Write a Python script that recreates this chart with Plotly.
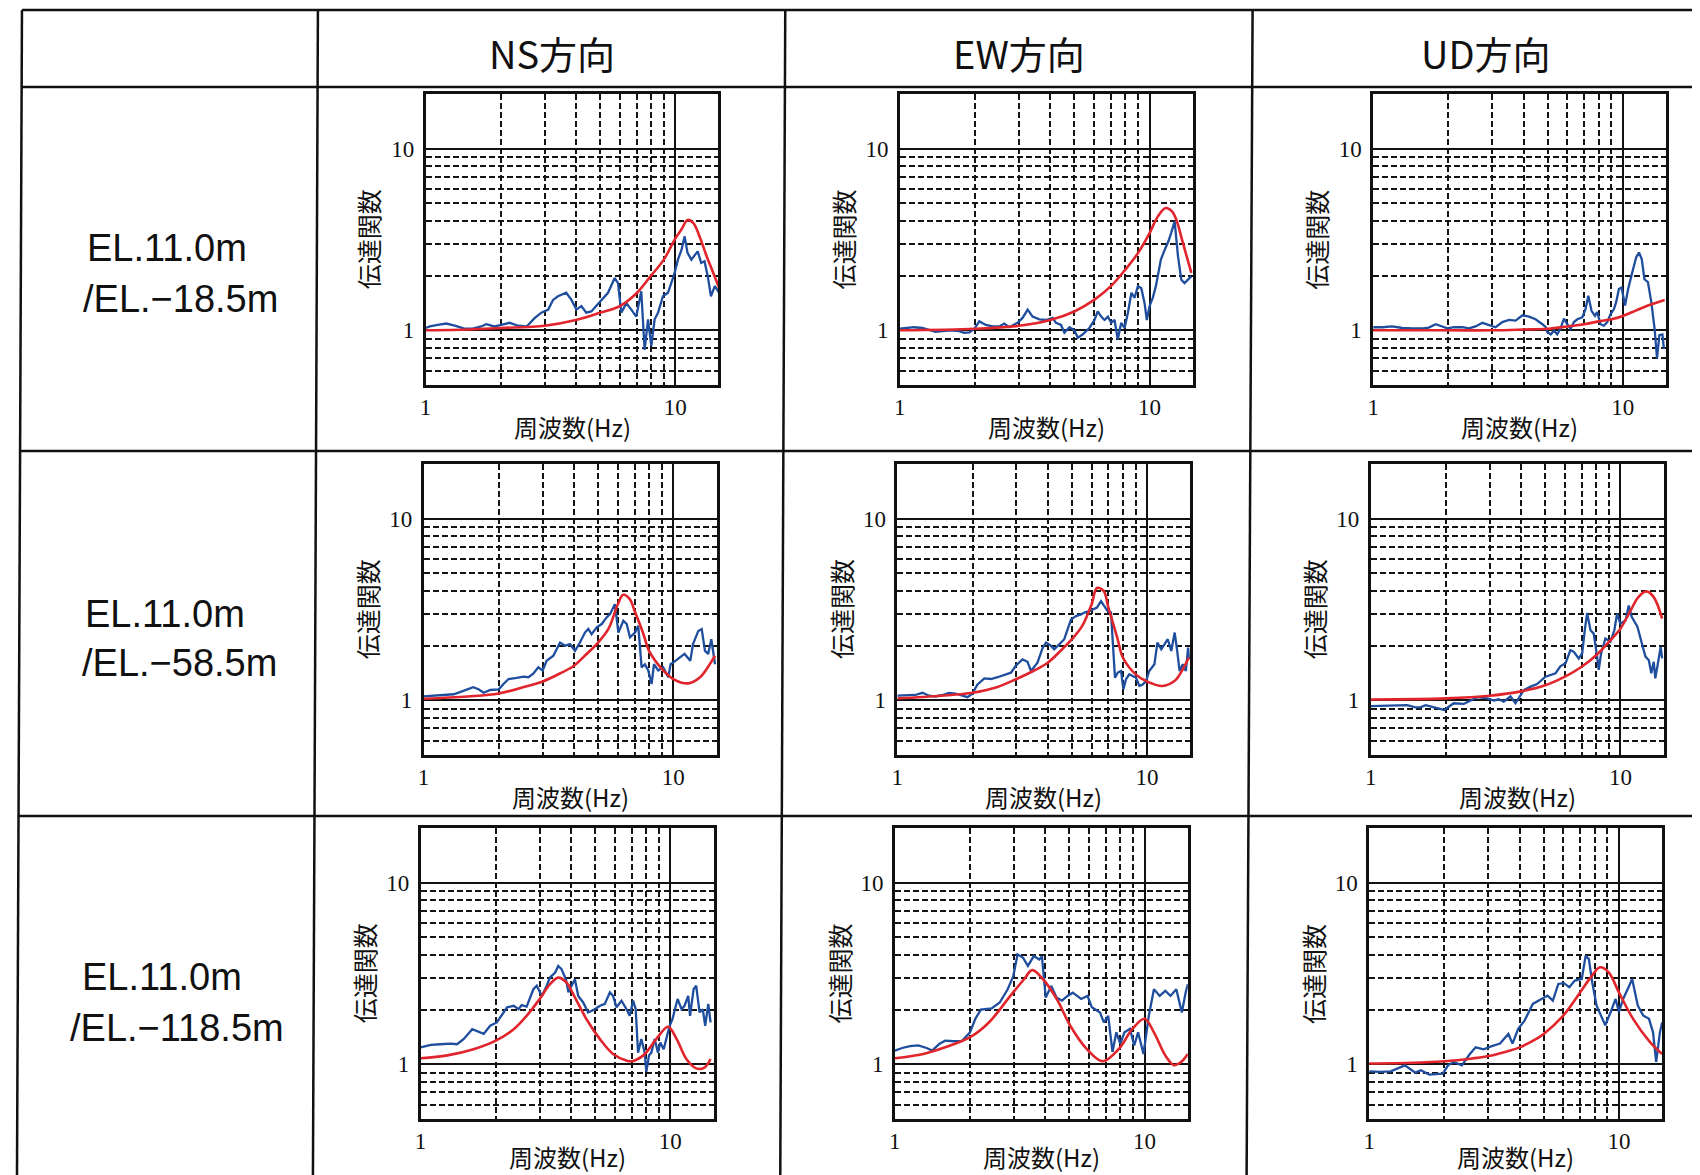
import math
import plotly.graph_objects as go

# The page body has an 8 px margin, so the figure is drawn 8 px smaller and
# every pixel coordinate below is measured on the 1700x1175 reference.
OFF = 8
W, H = 1700 - OFF, 1175 - OFF

# ---------------- data ----------------
col_titles = ["NS方向", "EW方向", "UD方向"]
row_line1 = ["EL.11.0m", "EL.11.0m", "EL.11.0m"]
row_line2 = ["/EL.−18.5m", "/EL.−58.5m", "/EL.−118.5m"]
x_title = "周波数(Hz)"
y_title = "伝達関数"
x_tick_vals = [1, 10]
x_tick_text = ["1", "10"]
y_tick_vals = [1, 10]
y_tick_text = ["1", "10"]
x_minor_vals = [2, 3, 4, 5, 6, 7, 8, 9]
y_minor_vals = [0.6, 0.7, 0.8, 0.9, 2, 3, 4, 5, 6, 7, 8, 9]
x_limits = [1.0, 14.9]
y_limits = [0.5, 20.0]

# Row 1 : EL.11.0m / EL.-18.5m
f_obs_ns_r1 = [1.0,1.04,1.12,1.21,1.31,1.44,1.53,1.67,1.75,1.89,2.01,2.17,2.35,2.54,2.74,2.91,3.10,3.24,3.39,3.66,
               3.84,4.02,4.21,4.40,4.61,4.83,5.06,5.38,5.72,5.90,6.08,6.37,6.67,6.98,7.31,7.54,7.78,8.02,8.27,8.53,
               8.93,9.35,9.64,9.94,10.25,10.6,10.9,11.2,11.6,11.9,12.3,12.7,13.1,13.5,13.9,14.4,15.0]
h_obs_ns_r1 = [1.03,1.05,1.07,1.09,1.06,1.02,1.02,1.05,1.08,1.05,1.07,1.10,1.06,1.05,1.17,1.25,1.30,1.47,1.54,1.61,
               1.47,1.30,1.36,1.25,1.27,1.36,1.47,1.61,1.94,1.82,1.25,1.41,1.30,1.19,1.64,0.78,1.15,0.82,1.15,1.25,
               1.54,1.61,1.82,2.07,2.45,2.78,3.29,2.67,2.45,2.55,2.72,2.35,2.40,1.98,1.54,1.75,1.61]
f_th_ns_r1 = [1.0,1.5,2.0,3.0,4.0,5.0,6.0,7.0,8.0,9.0,10.0,10.6,11.2,11.8,12.5,13.3,14.2,15.0]
h_th_ns_r1 = [1.0,1.01,1.03,1.06,1.14,1.25,1.36,1.6,2.0,2.45,3.2,3.6,4.05,3.9,3.3,2.6,2.07,1.71]

f_obs_ew_r1 = [1.0,1.06,1.14,1.23,1.31,1.39,1.48,1.60,1.73,1.81,1.90,1.99,2.08,2.21,2.35,2.50,2.62,2.74,2.96,3.10,
               3.25,3.40,3.62,3.85,4.09,4.22,4.42,4.56,4.78,5.00,5.16,5.40,5.74,6.02,6.20,6.40,6.60,6.81,7.02,7.24,
               7.46,7.70,7.94,8.19,8.46,8.71,8.98,9.26,9.55,9.75,10.0,10.3,10.6,11.1,11.5,11.9,12.2,12.6,13.0,13.4,
               13.8,14.3,14.7]
h_obs_ew_r1 = [1.02,1.03,1.04,1.03,1.0,0.98,0.99,1.0,0.99,0.97,0.975,1.02,1.12,1.07,1.05,1.05,1.09,1.04,1.10,1.17,
               1.30,1.19,1.15,1.14,1.17,1.10,1.07,0.97,1.04,1.0,0.91,0.95,1.03,1.14,1.27,1.19,1.14,1.19,1.10,1.14,
               0.89,1.10,1.03,1.25,1.61,1.51,1.75,1.71,1.41,1.14,1.36,1.51,1.75,2.45,2.78,3.09,3.43,3.98,2.55,1.90,
               1.82,1.90,1.98]
f_th_ew_r1 = [1.0,2.0,3.0,4.0,5.0,6.0,7.0,8.0,9.0,10.0,10.8,11.6,12.3,12.8,13.6,14.7]
h_th_ew_r1 = [1.0,1.02,1.06,1.14,1.27,1.47,1.75,2.16,2.67,3.43,4.24,4.71,4.52,4.06,3.03,2.07]

f_obs_ud_r1 = [1.0,1.09,1.19,1.31,1.44,1.58,1.67,1.78,1.89,1.98,2.11,2.28,2.42,2.57,2.74,2.91,3.09,3.29,3.50,3.72,
               3.96,4.21,4.47,4.76,4.91,4.98,5.14,5.30,5.46,5.63,5.81,5.99,6.18,6.37,6.57,6.88,7.09,7.27,7.49,7.73,
               7.89,8.14,8.39,8.66,8.93,9.21,9.40,9.64,9.88,10.2,10.5,10.9,11.3,11.6,11.9,12.2,12.6,13.0,13.4,13.7,
               14.0,14.4,14.6]
h_obs_ud_r1 = [1.04,1.04,1.05,1.03,1.025,1.025,1.035,1.08,1.05,1.025,1.04,1.04,1.025,1.05,1.10,1.07,1.04,1.11,1.14,1.13,
               1.21,1.19,1.15,1.08,1.04,0.98,0.95,0.996,0.95,1.025,1.16,1.08,1.02,1.11,1.15,1.18,1.31,1.55,1.28,1.20,
               1.26,1.08,1.06,1.11,1.23,1.31,1.43,1.69,1.72,1.37,1.69,2.08,2.52,2.68,2.47,1.91,1.84,1.43,1.02,0.70,
               0.94,0.95,0.79]
f_th_ud_r1 = [1.0,2.0,3.0,4.0,5.0,6.0,7.0,8.0,9.0,10.0,11.2,12.6,14.7]
h_th_ud_r1 = [1.0,1.0,1.0,1.01,1.02,1.05,1.08,1.12,1.15,1.2,1.28,1.37,1.47]

# Row 2 : EL.11.0m / EL.-58.5m
f_obs_ns_r2 = [1.0,1.10,1.20,1.32,1.40,1.49,1.58,1.66,1.74,1.85,2.0,2.09,2.19,2.36,2.51,2.63,2.75,2.88,3.0,3.11,
               3.31,3.52,3.69,3.86,4.04,4.23,4.43,4.57,4.71,4.94,5.17,5.41,5.58,5.84,6.03,6.31,6.51,6.71,7.03,7.24,
               7.47,7.70,7.94,8.19,8.37,8.71,9.12,9.55,9.76,10.2,10.6,11.1,11.7,12.0,12.6,13.0,13.4,13.8,14.2,14.7]
h_obs_ns_r2 = [1.05,1.06,1.065,1.08,1.11,1.15,1.18,1.15,1.10,1.14,1.15,1.23,1.31,1.33,1.35,1.34,1.40,1.52,1.46,1.65,
               1.76,2.08,2.0,2.04,1.87,2.08,2.36,2.47,2.31,2.52,2.63,2.86,2.98,3.38,2.36,2.74,2.63,2.22,2.36,2.57,
               1.52,1.58,1.46,1.23,1.58,1.46,1.52,1.34,1.58,1.65,1.72,1.80,1.65,2.04,2.41,2.47,1.87,1.80,2.17,1.58]
f_th_ns_r2 = [1.0,1.5,2.0,2.5,3.0,3.5,4.0,4.5,5.0,5.5,6.0,6.3,6.7,7.0,7.6,8.0,9.0,10.0,11.5,12.8,14.0,14.7]
h_th_ns_r2 = [1.02,1.05,1.09,1.18,1.27,1.40,1.55,1.80,2.08,2.47,3.38,3.81,3.61,3.11,2.31,1.87,1.49,1.31,1.24,1.34,1.58,1.76]

f_obs_ew_r2 = [1.0,1.10,1.18,1.26,1.34,1.42,1.52,1.61,1.71,1.82,1.91,2.0,2.09,2.23,2.37,2.52,2.72,2.85,2.98,3.17,
               3.32,3.43,3.64,3.82,3.94,4.12,4.25,4.45,4.66,4.96,5.19,5.44,5.61,5.87,6.05,6.30,6.54,6.74,6.95,7.17,
               7.29,7.44,7.63,7.87,8.04,8.24,8.49,8.76,9.03,9.32,9.61,9.91,10.2,10.7,11.0,11.4,11.7,12.1,12.5,12.9,
               13.2,13.5,13.9,14.3,14.6,14.7]
h_obs_ew_r2 = [1.06,1.07,1.07,1.10,1.06,1.05,1.07,1.10,1.09,1.06,1.04,1.09,1.22,1.32,1.31,1.34,1.39,1.42,1.55,1.68,
               1.63,1.45,1.61,1.95,2.08,2.0,1.91,2.03,2.17,2.79,2.91,2.97,3.04,3.10,3.17,3.24,3.52,3.31,3.10,3.04,
               2.03,1.33,1.42,1.45,1.15,1.31,1.39,1.36,1.33,1.20,1.22,1.28,1.45,1.58,2.08,1.91,2.03,2.17,1.87,2.36,
               1.87,1.45,1.58,1.45,1.95,1.68]
f_th_ew_r2 = [1.0,1.5,2.0,2.5,3.0,3.5,4.0,4.5,5.0,5.5,6.0,6.3,6.7,7.0,7.6,8.0,9.0,10.0,11.5,12.9,14.0,14.7]
h_th_ew_r2 = [1.025,1.06,1.10,1.18,1.31,1.45,1.61,1.87,2.17,2.57,3.38,4.15,4.0,3.24,2.21,1.72,1.39,1.27,1.20,1.28,1.51,1.72]

f_obs_ud_r2 = [1.0,1.10,1.20,1.32,1.40,1.51,1.58,1.66,1.74,1.82,1.97,2.15,2.36,2.67,2.93,3.11,3.26,3.41,3.63,3.80,
               3.98,4.11,4.37,4.64,5.01,5.25,5.50,5.75,6.03,6.31,6.51,6.81,7.03,7.20,7.36,7.59,7.82,8.07,8.19,8.37,
               8.71,9.12,9.46,9.70,10.0,10.5,10.8,11.1,11.7,12.2,12.6,13.0,13.3,13.6,13.8,14.2,14.5,14.7]
h_obs_ud_r2 = [0.93,0.935,0.94,0.94,0.94,0.915,0.915,0.94,0.925,0.915,0.885,0.963,0.955,1.04,1.025,0.998,1.013,0.983,1.05,0.963,
               1.07,1.14,1.19,1.23,1.35,1.38,1.41,1.54,1.60,1.89,1.85,1.70,1.81,2.43,3.03,2.43,2.33,1.74,1.47,1.81,
               2.19,2.10,2.43,3.0,2.64,2.76,3.33,2.88,2.54,2.05,1.74,1.66,1.41,1.63,1.32,1.66,1.97,1.70]
f_th_ud_r2 = [1.0,2.0,3.0,4.0,5.0,6.0,7.0,8.0,9.0,10.0,11.0,11.8,12.7,13.6,14.7]
h_th_ud_r2 = [1.01,1.025,1.06,1.12,1.21,1.35,1.53,1.77,2.10,2.48,3.13,3.7,3.98,3.7,2.82]

# Row 3 : EL.11.0m / EL.-118.5m
f_obs_ns_r3 = [1.0,1.10,1.20,1.32,1.40,1.49,1.61,1.71,1.79,1.90,2.02,2.22,2.36,2.47,2.54,2.66,2.83,2.92,3.06,3.20,
               3.30,3.46,3.56,3.67,3.82,3.91,4.03,4.15,4.28,4.48,4.69,4.99,5.23,5.47,5.73,5.90,6.09,6.38,6.68,6.88,
               7.10,7.27,7.43,7.66,7.90,8.02,8.22,8.40,8.66,8.93,9.12,9.41,9.64,9.94,10.2,10.7,11.1,11.4,11.8,12.0,
               12.4,12.7,13.1,13.5,13.8,14.2,14.5]
h_obs_ns_r3 = [1.24,1.28,1.29,1.30,1.29,1.38,1.56,1.50,1.47,1.63,1.70,2.06,2.10,2.01,2.12,2.08,2.59,2.71,2.38,2.71,
               3.01,3.20,3.48,3.34,2.94,2.49,2.71,2.94,2.38,2.19,1.93,2.01,2.10,2.15,2.49,2.38,2.06,2.24,2.01,1.85,
               2.24,2.01,1.16,1.38,1.16,0.91,1.12,1.16,1.38,1.16,1.32,1.21,1.38,1.63,1.77,2.29,2.01,2.10,2.38,1.85,
               2.59,2.71,1.93,2.01,1.63,2.15,1.70]
f_th_ns_r3 = [1.0,1.28,1.63,2.0,2.36,2.66,3.0,3.3,3.56,3.84,4.09,4.62,5.22,5.9,6.67,7.0,7.8,8.8,9.8,10.6,11.6,12.7,13.7,14.5]
h_th_ns_r3 = [1.08,1.12,1.21,1.35,1.56,1.85,2.29,2.76,3.0,2.82,2.43,1.77,1.38,1.14,1.05,1.04,1.12,1.38,1.61,1.38,1.07,0.95,0.96,1.07]

f_obs_ew_r3 = [1.0,1.07,1.15,1.24,1.34,1.41,1.51,1.59,1.72,1.85,2.0,2.10,2.21,2.44,2.63,2.83,2.98,3.10,3.26,3.41,
               3.60,3.79,3.88,4.02,4.23,4.44,4.67,4.91,5.16,5.57,5.91,6.15,6.63,6.87,7.15,7.44,7.71,7.99,8.31,8.74,
               9.09,9.42,9.90,10.4,10.9,11.5,12.1,12.7,13.4,14.1,14.6,14.9]
h_obs_ew_r3 = [1.19,1.23,1.26,1.27,1.23,1.19,1.30,1.35,1.34,1.34,1.50,1.78,2.0,2.03,2.19,2.59,3.06,4.03,3.86,3.48,
               3.94,3.78,3.94,2.33,2.70,2.33,2.24,2.38,2.48,2.29,2.38,2.06,1.93,1.70,1.85,1.17,1.50,1.30,1.50,1.57,
               1.27,1.50,1.14,1.85,2.59,2.38,2.54,2.38,2.59,1.93,2.48,2.76]
f_th_ew_r3 = [1.0,1.3,1.59,2.0,2.38,2.9,3.29,3.55,3.92,4.45,5.04,5.85,6.81,7.9,8.95,10.0,10.9,12.1,13.1,14.0,14.9]
h_th_ew_r3 = [1.08,1.14,1.24,1.41,1.70,2.38,2.94,3.30,2.94,2.29,1.63,1.22,1.04,1.22,1.57,1.78,1.50,1.12,0.99,1.03,1.14]

f_obs_ud_r3 = [1.0,1.11,1.22,1.39,1.53,1.61,1.74,1.97,2.07,2.18,2.35,2.53,2.67,2.87,3.10,3.34,3.61,3.75,3.95,4.19,
               4.52,4.87,5.18,5.44,5.72,6.02,6.33,6.66,7.10,7.36,7.58,7.82,8.14,8.47,8.82,9.27,9.70,10.0,10.4,11.0,
               11.3,11.9,12.5,13.2,13.7,14.1,14.6,14.9]
h_obs_ud_r3 = [0.915,0.908,0.915,0.987,0.90,0.927,0.878,0.889,0.987,1.03,0.987,1.14,1.24,1.21,1.26,1.30,1.47,1.30,1.57,1.74,
               2.15,2.29,2.39,2.24,2.77,2.80,2.66,2.89,2.95,3.96,3.80,2.83,2.11,1.86,1.64,1.94,2.29,1.94,2.29,2.71,
               2.95,2.11,1.86,1.78,1.50,1.03,1.50,1.70]
f_th_ud_r3 = [1.0,1.5,2.0,2.5,3.0,3.5,4.0,4.5,5.0,6.0,7.0,7.7,8.4,9.1,10.0,11.4,13.3,14.9]
h_th_ud_r3 = [1.01,1.02,1.04,1.07,1.11,1.17,1.24,1.34,1.47,1.86,2.49,3.0,3.42,3.21,2.49,1.78,1.33,1.14]

panels = [
    [(f_obs_ns_r1, h_obs_ns_r1, f_th_ns_r1, h_th_ns_r1),
     (f_obs_ew_r1, h_obs_ew_r1, f_th_ew_r1, h_th_ew_r1),
     (f_obs_ud_r1, h_obs_ud_r1, f_th_ud_r1, h_th_ud_r1)],
    [(f_obs_ns_r2, h_obs_ns_r2, f_th_ns_r2, h_th_ns_r2),
     (f_obs_ew_r2, h_obs_ew_r2, f_th_ew_r2, h_th_ew_r2),
     (f_obs_ud_r2, h_obs_ud_r2, f_th_ud_r2, h_th_ud_r2)],
    [(f_obs_ns_r3, h_obs_ns_r3, f_th_ns_r3, h_th_ns_r3),
     (f_obs_ew_r3, h_obs_ew_r3, f_th_ew_r3, h_th_ew_r3),
     (f_obs_ud_r3, h_obs_ud_r3, f_th_ud_r3, h_th_ud_r3)],
]

# ---------------- layout geometry (reference pixels) ----------------
plot_left = [[421, 897, 1372], [419, 894.5, 1369.5], [416, 892, 1368]]
plot_top = [94, 464, 828]
plot_w, plot_h = 294, 291
xtitle_gap = [41, 41, 37]

BLUE = "#1f4e9e"
RED = "#e1252c"
INK = "#111111"
CJK = "Noto Sans CJK JP"
SERIF = "Liberation Serif, Times New Roman, serif"
SANS = "Liberation Sans, Arial, sans-serif"


def px(x):
    return (x - OFF) / W


def py(y):
    return 1 - (y - OFF) / H


fig = go.Figure()
layout = dict(
    width=W, height=H, autosize=False,
    margin=dict(l=0, r=0, t=0, b=0),
    paper_bgcolor="white", plot_bgcolor="white",
    showlegend=False,
    font=dict(family=CJK, color=INK),
)
annotations = []
shapes = []

k = 0
for r in range(3):
    for c in range(3):
        k += 1
        sx = "" if k == 1 else str(k)
        L = plot_left[r][c]
        T = plot_top[r]
        fo, ho, ft, ht = panels[r][c]
        fig.add_trace(go.Scatter(x=fo, y=ho, mode="lines", xaxis="x" + sx, yaxis="y" + sx,
                                 line=dict(color=BLUE, width=2.3), hoverinfo="skip"))
        fig.add_trace(go.Scatter(x=ft, y=ht, mode="lines", xaxis="x" + sx, yaxis="y" + sx,
                                 line=dict(color=RED, width=2.6, shape="spline", smoothing=1.0),
                                 hoverinfo="skip"))
        common = dict(
            type="log", showline=True, mirror=True, linecolor=INK, linewidth=2.5,
            showgrid=True, gridcolor=INK, gridwidth=1.6, zeroline=False,
            ticks="", ticklen=0, tickmode="array",
            tickfont=dict(family=SERIF, size=23, color=INK),
            fixedrange=True,
        )
        minor = dict(showgrid=True, gridcolor="#151515", gridwidth=1.6,
                     griddash="6px,3px", ticks="", tickmode="array")
        layout["xaxis" + sx] = dict(
            common, domain=[px(L), px(L + plot_w)], anchor="y" + sx,
            range=[math.log10(x_limits[0]), math.log10(x_limits[1])],
            tickvals=x_tick_vals, ticktext=x_tick_text, ticklabelstandoff=0,
            minor=dict(minor, tickvals=x_minor_vals),
        )
        layout["yaxis" + sx] = dict(
            common, domain=[py(T + plot_h), py(T)], anchor="x" + sx,
            range=[math.log10(y_limits[0]), math.log10(y_limits[1])],
            tickvals=y_tick_vals, ticktext=y_tick_text, ticklabelstandoff=4,
            minor=dict(minor, tickvals=y_minor_vals),
        )
        annotations.append(dict(x=px(L - 57), y=py(T + plot_h / 2), xref="paper", yref="paper",
                                text=y_title, textangle=-90, showarrow=False,
                                xanchor="center", yanchor="middle",
                                font=dict(family=CJK, size=25, color=INK)))
        annotations.append(dict(x=px(L + plot_w / 2), y=py(T + plot_h + xtitle_gap[r]),
                                xref="paper", yref="paper",
                                text=x_title, showarrow=False, xanchor="center", yanchor="middle",
                                font=dict(family=CJK, size=24, color=INK)))

# column headers
for cx, t in zip([547.5, 1016.5, 1485], col_titles):
    annotations.append(dict(x=px(cx), y=py(52), xref="paper", yref="paper", text=t, showarrow=False,
                            xanchor="center", yanchor="middle",
                            font=dict(family=CJK, size=38, color=INK)))

# row labels
row_y1 = [248, 614, 977]
row_y2 = [299, 663, 1028]
row_x1 = [162, 159.5, 157]
row_x2 = [175, 174, 171.5]
for i in range(3):
    annotations.append(dict(x=px(row_x1[i]), y=py(row_y1[i]), xref="paper", yref="paper",
                            text=row_line1[i], showarrow=False, xanchor="center", yanchor="middle",
                            font=dict(family=SANS, size=38, color=INK)))
    annotations.append(dict(x=px(row_x2[i]), y=py(row_y2[i]), xref="paper", yref="paper",
                            text=row_line2[i], showarrow=False, xanchor="center", yanchor="middle",
                            font=dict(family=SANS, size=38, color=INK)))


def seg(x0, y0, x1, y1, w=2.5):
    shapes.append(dict(type="line", xref="paper", yref="paper", x0=px(x0), y0=py(y0),
                       x1=px(x1), y1=py(y1), line=dict(color=INK, width=w)))


for xt, xb in [(16, 11), (313, 308), (782, 777), (1251, 1245)]:
    seg(xt, 10, xb, 1175)
for yh, xl in [(10, 16), (87, 15.6), (451, 14), (816, 12.5)]:
    seg(xl, yh, 1700, yh)

layout["annotations"] = annotations
layout["shapes"] = shapes
fig.update_layout(**layout)
fig.write_html("out.html")
